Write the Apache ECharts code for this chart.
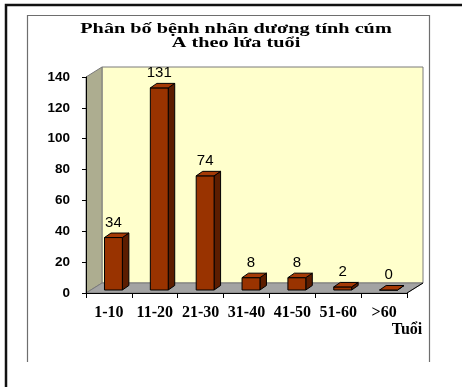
<!DOCTYPE html>
<html>
<head>
<meta charset="utf-8">
<script src="https://cdn.jsdelivr.net/npm/echarts@6/dist/echarts.min.js"></script>
<style>
  html, body { margin: 0; padding: 0; background: #ffffff; }
  #chart { width: 462px; height: 387px; }
</style>
</head>
<body>
<div id="chart"></div>
<script>
// Age groups and number of influenza A positive patients
const categories = ['1-10', '11-20', '21-30', '31-40', '41-50', '51-60', '>60'];
const patients = [34, 131, 74, 8, 8, 2, 0];
const yTickValues = [0, 20, 40, 60, 80, 100, 120, 140];
const titleLines = ['Phân bố bệnh nhân dương tính cúm', 'A theo lứa tuổi'];
const xAxisName = 'Tuổi';

// Plot box (front plane) and the 3D depth of the walls
const PLOT = { left: 86, top: 77, right: 407, bottom: 293 };
const WALL_DEPTH = [16, -10];
const W = 462, H = 387;

const chart = echarts.init(document.getElementById('chart'), null, { renderer: 'canvas' });

function bar3d(params, api) {
  const idx = api.value(0);
  const v = api.value(1);
  const base = api.coord([idx, 0]);
  const top = api.coord([idx, v]);
  const band = api.size([1, 0])[0];
  const w = band * 0.39;
  // bars stand half-way into the floor depth
  const sx = 4.5, sy = -3;
  const x0 = base[0] - w / 2 + sx, x1 = x0 + w;
  const yb = base[1] + sy, yt = top[1] + sy;
  const dx = 6.5, dy = -4.5;
  const line = { stroke: '#000000', lineWidth: 1 };
  return {
    type: 'group',
    children: [
      { type: 'polygon', shape: { points: [[x1, yb], [x1, yt], [x1 + dx, yt + dy], [x1 + dx, yb + dy]] },
        style: Object.assign({ fill: '#5c1d00' }, line) },
      { type: 'rect', shape: { x: x0, y: yt, width: w, height: yb - yt },
        style: Object.assign({ fill: '#993300' }, line) },
      { type: 'polygon', shape: { points: [[x0, yt], [x1, yt], [x1 + dx, yt + dy], [x0 + dx, yt + dy]] },
        style: Object.assign({ fill: '#a53a06' }, line) },
      { type: 'text', x: (x0 + x1) / 2, y: yt + dy - 3,
        style: { text: String(v), fill: '#000000', font: '15px "Liberation Sans", Arial, sans-serif',
                 textAlign: 'center', textVerticalAlign: 'bottom' } }
    ]
  };
}

const [ddx, ddy] = WALL_DEPTH;
const wallStroke = { stroke: '#7a7a7a', lineWidth: 1 };
const titleFont = 'bold 15px "Liberation Serif", "Times New Roman", serif';

const option = {
  animation: false,
  backgroundColor: '#ffffff',
  grid: {
    left: PLOT.left, top: PLOT.top,
    right: W - PLOT.right, bottom: H - PLOT.bottom,
    containLabel: false
  },
  xAxis: {
    type: 'category',
    data: categories,
    boundaryGap: true,
    axisLine: { show: true, lineStyle: { color: '#000000', width: 1 } },
    axisTick: { show: true, length: 5, interval: 0, lineStyle: { color: '#000000' } },
    axisLabel: {
      interval: 0, margin: 12, color: '#000000',
      fontFamily: '"Liberation Serif", "Times New Roman", serif', fontWeight: 'bold', fontSize: 16
    },
    splitLine: { show: false },
    name: xAxisName,
    nameLocation: 'end',
    nameGap: 0,
    nameTextStyle: {
      color: '#000000', fontFamily: '"Liberation Serif", "Times New Roman", serif',
      fontWeight: 'bold', fontSize: 16, align: 'center', verticalAlign: 'top', padding: [29, 0, 0, 0]
    },
    z: 5
  },
  yAxis: {
    type: 'value',
    min: yTickValues[0],
    max: yTickValues[yTickValues.length - 1],
    interval: yTickValues[1] - yTickValues[0],
    axisLine: { show: true, lineStyle: { color: '#000000', width: 1 } },
    axisTick: { show: true, length: 4, lineStyle: { color: '#000000' } },
    axisLabel: {
      margin: 16, color: '#000000',
      fontFamily: '"Liberation Sans", Arial, sans-serif', fontWeight: 'bold', fontSize: 13.5
    },
    splitLine: { show: false },
    z: 5
  },
  graphic: [
    // outer black frame
    { type: 'rect', z: -20, shape: { x: 6, y: 5, width: 480, height: 420 },
      style: { fill: 'none', stroke: '#111111', lineWidth: 2.5 } },
    // inner chart frame (left, top, right edges)
    { type: 'polyline', z: -20, shape: { points: [[27.5, 362], [27.5, 15.5], [429.5, 15.5], [429.5, 362]] },
      style: { fill: 'none', stroke: '#6e6e6e', lineWidth: 1.2 } },
    // back wall
    { type: 'rect', z: -10, shape: { x: PLOT.left + ddx, y: PLOT.top + ddy,
        width: PLOT.right - PLOT.left, height: PLOT.bottom - PLOT.top },
      style: Object.assign({ fill: '#ffffcc' }, wallStroke) },
    // side wall
    { type: 'polygon', z: -9, shape: { points: [
        [PLOT.left, PLOT.bottom], [PLOT.left, PLOT.top],
        [PLOT.left + ddx, PLOT.top + ddy], [PLOT.left + ddx, PLOT.bottom + ddy]] },
      style: Object.assign({ fill: '#adad90' }, wallStroke) },
    // floor
    { type: 'polygon', z: -8, shape: { points: [
        [PLOT.left, PLOT.bottom], [PLOT.left + ddx, PLOT.bottom + ddy],
        [PLOT.right + ddx, PLOT.bottom + ddy], [PLOT.right, PLOT.bottom]] },
      style: Object.assign({ fill: '#a3a3a3' }, wallStroke) },
    // floor front-right edge
    { type: 'line', z: 6, shape: { x1: PLOT.right, y1: PLOT.bottom, x2: PLOT.right + ddx, y2: PLOT.bottom + ddy },
      style: { stroke: '#000000', lineWidth: 1 } },
    // title, two lines
    { type: 'text', z: 10, x: 236, y: 29, scaleX: 1.35,
      style: { text: titleLines[0], fill: '#000000', font: titleFont,
               textAlign: 'center', textVerticalAlign: 'middle' } },
    { type: 'text', z: 10, x: 236, y: 43, scaleX: 1.35,
      style: { text: titleLines[1], fill: '#000000', font: titleFont,
               textAlign: 'center', textVerticalAlign: 'middle' } }
  ],
  series: [{
    type: 'custom',
    renderItem: bar3d,
    encode: { x: 0, y: 1 },
    data: categories.map((c, i) => [i, patients[i]]),
    clip: false,
    z: 3
  }]
};

chart.setOption(option);
</script>
</body>
</html>
